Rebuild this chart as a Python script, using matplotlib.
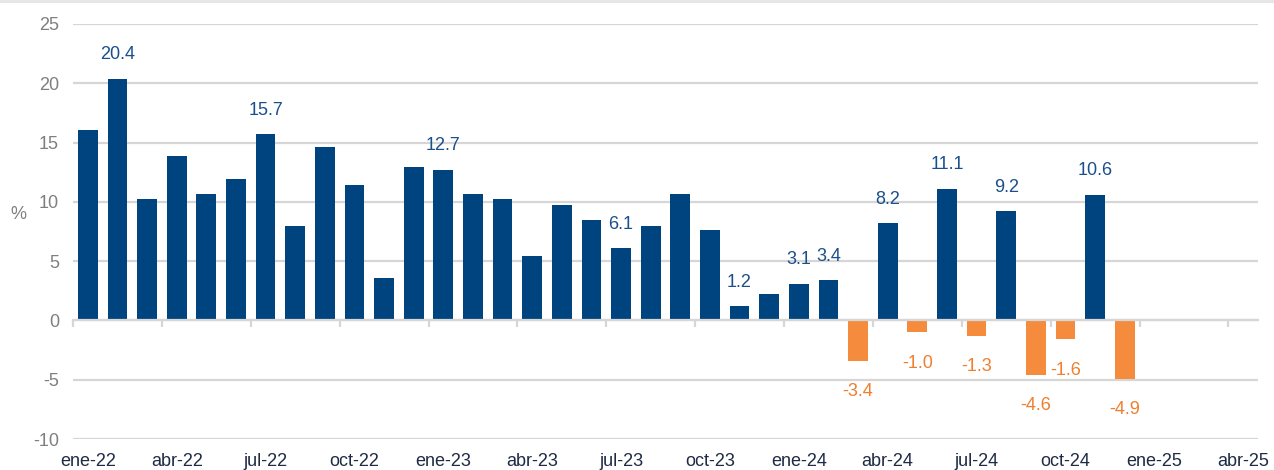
import numpy as np
import matplotlib
matplotlib.use("Agg")
import matplotlib.pyplot as plt
from matplotlib.lines import Line2D

# monthly values, ene-22 .. dic-24
values = [16.1, 20.4, 10.2, 13.9, 10.7, 11.9, 15.7, 8.0, 14.6, 11.4, 3.6, 12.9,
          12.7, 10.7, 10.2, 5.4, 9.7, 8.5, 6.1, 8.0, 10.7, 7.6, 1.2, 2.2,
          3.1, 3.4, -3.4, 8.2, -1.0, 11.1, -1.3, 9.2, -4.6, -1.6, 10.6, -4.9]
# which bars carry a data label
labelled = [1, 6, 12, 18, 22, 24, 25, 26, 27, 28, 29, 30, 31, 32, 33, 34, 35]
# axis runs ene-22 .. abr-25, one label every three months
months = ["ene", "feb", "mar", "abr", "may", "jun", "jul", "ago", "sep", "oct", "nov", "dic"]
years = ["22", "23", "24", "25"]
n_months = 40

month_names = [f"{m}-{y}" for y in years for m in months][:n_months]

BLUE = "#00447F"
ORANGE = "#F58B3C"
BLUE_TXT = "#1B4F8C"
ORANGE_TXT = "#EE7F2E"
GRID = "#D6D6D6"

plt.rcParams["font.family"] = ["Liberation Sans", "DejaVu Sans"]
plt.rcParams["axes.unicode_minus"] = False

fig = plt.figure(figsize=(12.74, 4.70), dpi=100)
ax = fig.add_axes([73 / 1274, 1 - 439 / 470, (1258 - 73) / 1274, (439 - 24) / 470])

x = np.arange(len(values))
vals = np.array(values)
colors = [BLUE if v >= 0 else ORANGE for v in vals]
ax.bar(x, vals, width=0.67, color=colors, zorder=3)

for i in labelled:
    v = vals[i]
    if v >= 0:
        ax.annotate(f"{v:.1f}", (i, v), xytext=(0, 24), textcoords="offset pixels",
                    ha="center", va="center", fontsize=13, color=BLUE_TXT)
    else:
        ax.annotate(f"{v:.1f}", (i, v), xytext=(0, -31), textcoords="offset pixels",
                    ha="center", va="center", fontsize=13, color=ORANGE_TXT)

ax.set_xlim(-0.5, n_months - 0.5)
ax.set_ylim(-10, 25)
ax.set_yticks(range(-10, 26, 5))
ax.yaxis.grid(True, color=GRID, linewidth=1.6, zorder=0)
ax.tick_params(axis="y", length=0, labelsize=13, labelcolor="#7F7F7F", pad=10)
ax.set_ylabel("%", rotation=0, fontsize=13, color="#7F7F7F", labelpad=18)
ax.yaxis.set_label_coords(-0.046, 0.52)

for s in ["top", "right", "left"]:
    ax.spines[s].set_visible(False)
ax.spines["bottom"].set_position(("data", 0))
ax.spines["bottom"].set_color(GRID)
ax.spines["bottom"].set_linewidth(1.6)
ax.spines["bottom"].set_zorder(4)
ax.set_xticks(np.arange(-0.5, n_months - 0.5, 3))
ax.set_xticklabels([])
ax.tick_params(axis="x", direction="out", length=5, width=1.6, color=GRID)

sec = ax.secondary_xaxis(0)
sec.set_xticks(np.arange(0, n_months, 3))
sec.set_xticklabels([month_names[i] for i in range(0, n_months, 3)])
sec.tick_params(length=0, labelsize=13, labelcolor="#1F2A44", pad=10)
sec.spines["bottom"].set_visible(False)

fig.add_artist(Line2D([0, 1], [0.997, 0.997], color="#E6E6E6", linewidth=3,
                      transform=fig.transFigure))

fig.savefig("out.png", dpi=100)
